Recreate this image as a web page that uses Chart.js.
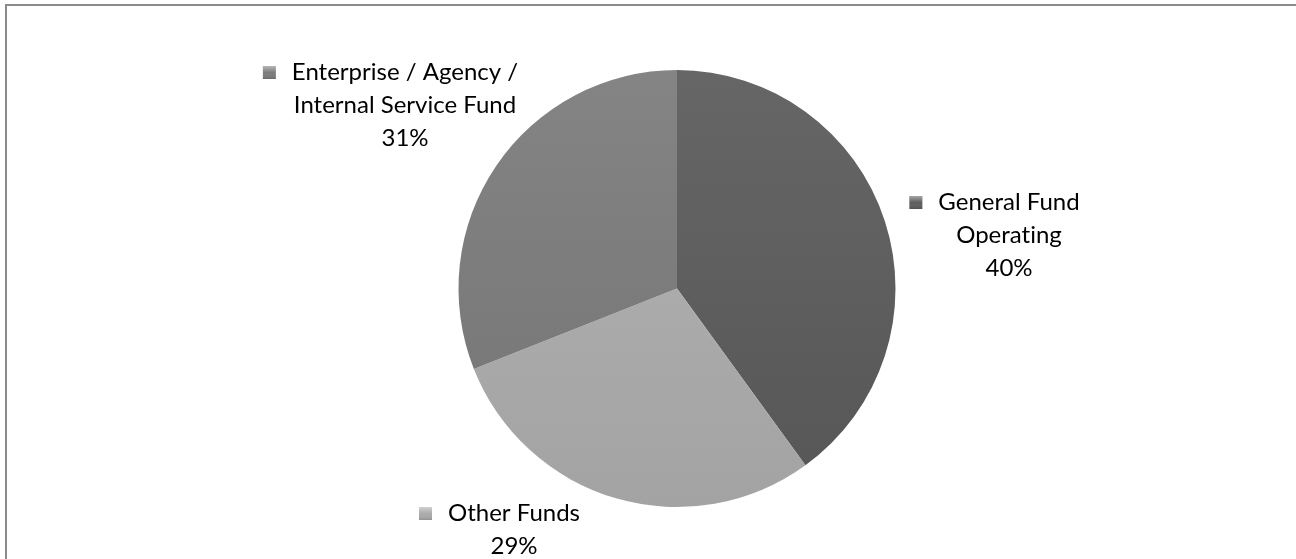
<!DOCTYPE html>
<html>
<head>
<meta charset="utf-8">
<script src="https://cdn.jsdelivr.net/npm/chart.js@4.4.1/dist/chart.umd.min.js"></script>
<style>
  html, body { margin: 0; padding: 0; background: #fff; overflow: hidden; }
  #wrap { position: relative; width: 1296px; height: 559px; }
  #frame {
    position: absolute; left: 5px; top: 4px; width: 1400px; height: 700px;
    border-top: 2px solid #8b8b8b; border-left: 2px solid #8b8b8b;
    pointer-events: none;
  }
  canvas { position: absolute; left: 0; top: 0; }
</style>
</head>
<body>
<div id="wrap">
  <canvas id="fundChart" width="1296" height="559"></canvas>
  <div id="frame"></div>
</div>
<script>
// Доли бюджета по фондам
const categories = ['General Fund Operating', 'Other Funds', 'Enterprise / Agency / Internal Service Fund'];
const shares = [40, 29, 31];
const labelLines = [
    ['General Fund', 'Operating'],
    ['Other Funds'],
    ['Enterprise / Agency /', 'Internal Service Fund']
];
const sliceGray = [94, 171, 124];

function gray(v) {
    v = Math.max(0, Math.min(255, Math.round(v)));
    return `rgb(${v},${v},${v})`;
}

// Лёгкий вертикальный градиент по сектору
function sliceFill(context) {
    const area = context.chart.chartArea;
    if (!area) return gray(sliceGray[context.dataIndex]);
    const base = sliceGray[context.dataIndex];
    const g = context.chart.ctx.createLinearGradient(0, area.top, 0, area.bottom);
    g.addColorStop(0, gray(base + 8));
    g.addColorStop(1, gray(base - 8));
    return g;
}

// Подписи с маркером: смещение блока относительно центра круга
const calloutLabels = {
    id: 'calloutLabels',
    afterDatasetsDraw(chart, args, opts) {
        const ctx = chart.ctx;
        const meta = chart.getDatasetMeta(0);
        const lh = opts.lineHeight;
        ctx.save();
        ctx.font = opts.font;
        ctx.textRendering = 'optimizeSpeed';
        ctx.fillStyle = '#000';
        ctx.textAlign = 'center';
        ctx.textBaseline = 'middle';
        meta.data.forEach((arc, i) => {
            const off = opts.offsets[i];
            const cx = arc.x + off.dx;
            const y0 = arc.y + off.dy;
            const lines = labelLines[i].concat([shares[i] + '%']);
            lines.forEach((t, k) => ctx.fillText(t, cx, y0 + k * lh));

            // маркер легенды слева от первой строки
            const w = ctx.measureText(lines[0]).width;
            const s = 13;
            const mx = cx - w / 2 - 16 - s;
            const my = y0 - s / 2;
            const g = ctx.createLinearGradient(mx, my, mx, my + s);
            g.addColorStop(0, 'rgba(255,255,255,0.45)');
            g.addColorStop(0.5, 'rgba(255,255,255,0)');
            g.addColorStop(1, 'rgba(0,0,0,0.15)');
            ctx.fillStyle = gray(sliceGray[i]);
            ctx.fillRect(mx, my, s, s);
            ctx.fillStyle = g;
            ctx.fillRect(mx, my, s, s);
            ctx.fillStyle = '#000';
        });
        ctx.restore();
    }
};

new Chart(document.getElementById('fundChart'), {
    type: 'pie',
    data: {
        labels: categories,
        datasets: [{
            data: shares,
            backgroundColor: sliceFill,
            borderWidth: 0
        }]
    },
    options: {
        responsive: false,
        animation: false,
        layout: { padding: { left: 458, right: 400, top: 70, bottom: 52 } },
        plugins: {
            legend: { display: false },
            tooltip: { enabled: false },
            calloutLabels: {
                font: '24px Lato',
                lineHeight: 33,
                offsets: [
                    { dx: 332, dy: -86 },
                    { dx: -163, dy: 225 },
                    { dx: -272, dy: -216 }
                ]
            }
        }
    },
    plugins: [calloutLabels]
});
</script>
</body>
</html>
